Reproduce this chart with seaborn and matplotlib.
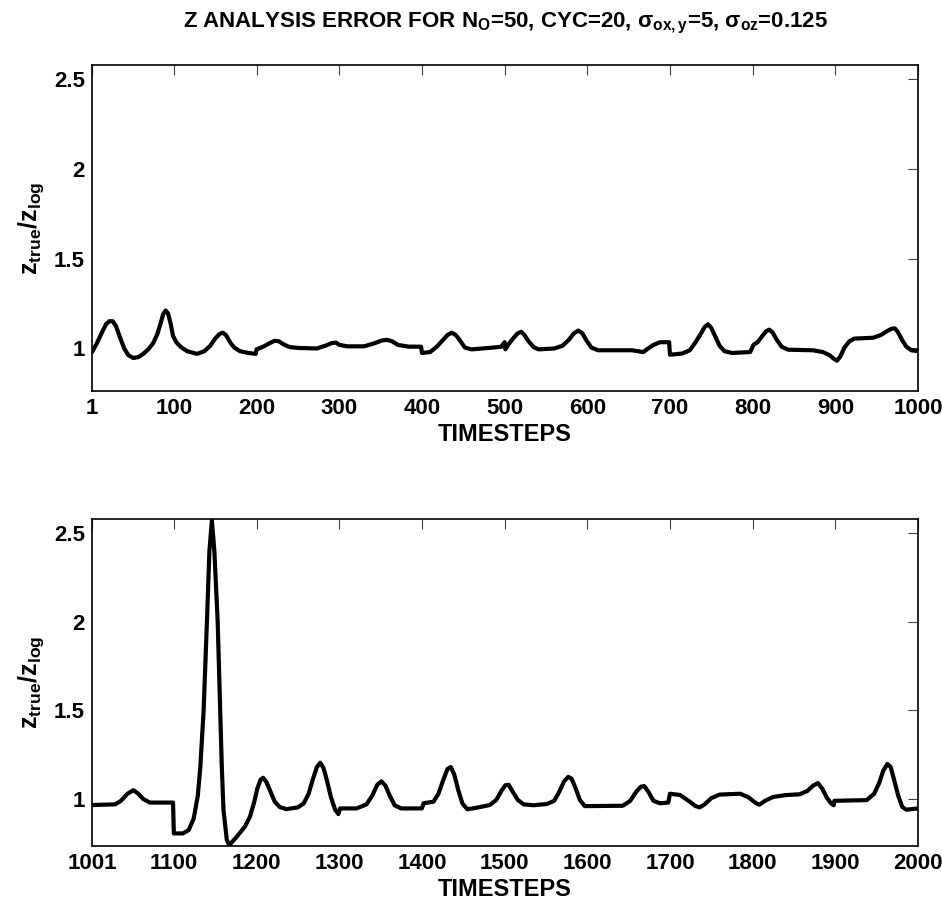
import numpy as np
import pandas as pd
import matplotlib
matplotlib.use('Agg')
import matplotlib.pyplot as plt
import seaborn as sns
from matplotlib import font_manager

# ================= data =================
TOP_T = [1, 7, 13, 18, 22, 26, 30, 35, 40, 45,
         51, 57, 63, 69, 75, 80, 84, 87, 90, 93,
         96, 99, 103, 108, 116, 128, 137, 144, 150, 155,
         159, 163, 168, 173, 180, 190, 199, 200, 208, 216,
         222, 227, 233, 240, 250, 273, 283, 291, 296, 300,
         310, 330, 342, 352, 358, 364, 371, 384, 399, 400,
         410, 418, 425, 431, 436, 441, 446, 452, 460, 486,
         496, 500, 501, 505, 511, 516, 520, 524, 529, 535,
         541, 560, 570, 578, 584, 589, 594, 599, 605, 613,
         654, 668, 672, 680, 688, 699, 700, 715, 724, 731,
         737, 742, 746, 750, 755, 760, 766, 775, 797, 801,
         806, 811, 816, 820, 824, 829, 835, 843, 873, 885,
         893, 898, 902, 906, 911, 917, 923, 946, 955, 962,
         968, 972, 976, 981, 986, 992, 1000]
TOP_Z = [0.98, 1.03, 1.09, 1.135, 1.152, 1.152, 1.125, 1.06, 1.00, 0.962,
         0.947, 0.952, 0.97, 0.995, 1.03, 1.08, 1.14, 1.19, 1.212, 1.195,
         1.14, 1.07, 1.035, 1.01, 0.985, 0.97, 0.985, 1.015, 1.055, 1.08,
         1.088, 1.075, 1.035, 1.005, 0.985, 0.975, 0.97, 0.995, 1.01, 1.03,
         1.043, 1.04, 1.022, 1.008, 1.003, 1.0, 1.015, 1.03, 1.033, 1.02,
         1.012, 1.012, 1.028, 1.045, 1.048, 1.04, 1.02, 1.01, 1.01, 0.975,
         0.98, 1.01, 1.045, 1.075, 1.088, 1.075, 1.045, 1.005, 0.995, 1.005,
         1.01, 1.035, 0.995, 1.025, 1.06, 1.085, 1.093, 1.075, 1.04, 1.008,
         0.995, 1.0, 1.015, 1.05, 1.085, 1.1, 1.085, 1.045, 1.005, 0.99,
         0.99, 0.98, 0.995, 1.02, 1.035, 1.035, 0.965, 0.972, 0.99, 1.035,
         1.08, 1.12, 1.135, 1.115, 1.065, 1.015, 0.985, 0.975, 0.98, 1.02,
         1.035, 1.065, 1.095, 1.105, 1.09, 1.05, 1.01, 0.993, 0.99, 0.98,
         0.963, 0.943, 0.932, 0.955, 1.005, 1.04, 1.055, 1.06, 1.075, 1.095,
         1.11, 1.112, 1.09, 1.045, 1.01, 0.99, 0.985]

BOT_T = [1001, 1029, 1036, 1044, 1051, 1057, 1063, 1071, 1099, 1100,
         1111, 1118, 1124, 1129, 1132, 1136, 1140, 1143, 1146, 1149,
         1153, 1156, 1158, 1160, 1164, 1167, 1176, 1186, 1192, 1197,
         1201, 1205, 1208, 1212, 1217, 1222, 1228, 1236, 1250, 1257,
         1263, 1268, 1273, 1277, 1281, 1285, 1290, 1295, 1299, 1301,
         1321, 1333, 1340, 1346, 1351, 1356, 1361, 1367, 1375, 1400,
         1402, 1414, 1420, 1426, 1431, 1435, 1439, 1444, 1449, 1455,
         1465, 1482, 1490, 1496, 1501, 1505, 1510, 1516, 1523, 1535,
         1551, 1560, 1566, 1572, 1577, 1581, 1586, 1591, 1597, 1643,
         1652, 1659, 1665, 1669, 1674, 1680, 1688, 1698, 1700, 1712,
         1724, 1731, 1736, 1742, 1750, 1760, 1785, 1795, 1803, 1808,
         1815, 1825, 1840, 1857, 1866, 1873, 1879, 1884, 1890, 1895,
         1898, 1899, 1938, 1947, 1953, 1958, 1963, 1967, 1971, 1976,
         1981, 1986, 2000]
BOT_Z = [0.966, 0.97, 0.99, 1.03, 1.05, 1.03, 1.0, 0.98, 0.98, 0.806,
         0.806, 0.825, 0.89, 1.02, 1.18, 1.5, 2.0, 2.4, 2.57, 2.4,
         2.0, 1.5, 1.18, 0.94, 0.77, 0.74, 0.787, 0.845, 0.9, 0.98,
         1.06, 1.11, 1.12, 1.095, 1.04, 0.985, 0.955, 0.943, 0.953, 0.975,
         1.03, 1.11, 1.18, 1.205, 1.175, 1.107, 1.01, 0.94, 0.915, 0.947,
         0.947, 0.97, 1.02, 1.08, 1.1, 1.075, 1.02, 0.965, 0.947, 0.947,
         0.976, 0.985, 1.03, 1.11, 1.17, 1.18, 1.14, 1.05, 0.975, 0.942,
         0.95, 0.966, 0.995, 1.045, 1.078, 1.08, 1.04, 0.995, 0.97, 0.965,
         0.972, 0.99, 1.04, 1.1, 1.125, 1.115, 1.06, 0.995, 0.96, 0.962,
         0.99, 1.04, 1.07, 1.073, 1.04, 0.99, 0.976, 0.98, 1.03, 1.023,
         0.985, 0.96, 0.953, 0.97, 1.005, 1.025, 1.03, 1.01, 0.98, 0.968,
         0.99, 1.012, 1.022, 1.027, 1.045, 1.075, 1.09, 1.06, 1.005, 0.975,
         0.965, 0.99, 0.994, 1.03, 1.09, 1.16, 1.198, 1.18, 1.11, 1.02,
         0.955, 0.94, 0.947]

TOP_XTICKS = [1, 100, 200, 300, 400, 500, 600, 700, 800, 900, 1000]
BOT_XTICKS = [1001, 1100, 1200, 1300, 1400, 1500, 1600, 1700, 1800, 1900, 2000]
YTICKS = [1, 1.5, 2, 2.5]
YTICK_LABELS = ['1', '1.5', '2', '2.5']
TITLE = (r'Z ANALYSIS ERROR FOR N$_{\mathbf{O}}$=50, CYC=20, '
         r'$\sigma_{\mathbf{ox,y}}$=5, $\sigma_{\mathbf{oz}}$=0.125')
# ===============================================================

sns.set_style('white')


def pick_font():
    for name in ['Liberation Sans Narrow', 'Liberation Sans', 'DejaVu Sans']:
        try:
            font_manager.findfont(name, fallback_to_default=False)
            return name
        except Exception:
            pass
    return 'DejaVu Sans'


FONT = pick_font()
plt.rcParams['font.family'] = [FONT, 'DejaVu Sans']
plt.rcParams['font.weight'] = 'bold'
plt.rcParams['text.color'] = 'black'
plt.rcParams['axes.labelcolor'] = 'black'
plt.rcParams['xtick.labelcolor'] = 'black'
plt.rcParams['ytick.labelcolor'] = 'black'
plt.rcParams['mathtext.fontset'] = 'custom'
plt.rcParams['mathtext.rm'] = FONT + ':bold'
plt.rcParams['mathtext.bf'] = FONT + ':bold'
plt.rcParams['mathtext.it'] = FONT + ':bold'

fig = plt.figure(figsize=(9.42, 9.09), dpi=100)
ax_top = fig.add_axes([92 / 942, 1 - 391 / 909, 826 / 942, 326 / 909])
ax_bot = fig.add_axes([92 / 942, 1 - 846 / 909, 826 / 942, 327 / 909])

top_df = pd.DataFrame({'t': TOP_T, 'z': TOP_Z})
bot_df = pd.DataFrame({'t': BOT_T, 'z': BOT_Z})

panels = [(ax_top, top_df, TOP_XTICKS, (1, 1000), (0.763, 2.58)),
          (ax_bot, bot_df, BOT_XTICKS, (1001, 2000), (0.735, 2.58))]

for ax, df, xt, xlim, ylim in panels:
    sns.lineplot(data=df, x='t', y='z', ax=ax, color='black', linewidth=3.0, sort=False)
    ax.set_xlim(*xlim)
    ax.set_ylim(*ylim)
    ax.set_xticks(xt)
    ax.set_xticklabels([str(v) for v in xt])
    ax.set_yticks(YTICKS)
    ax.set_yticklabels(YTICK_LABELS)
    ax.tick_params(axis='both', direction='in', length=7, width=0.8, color='#444444',
                   labelcolor='black', top=True, right=True, labelsize=16, pad=5)
    for lab in ax.get_xticklabels() + ax.get_yticklabels():
        lab.set_fontweight('bold')
    for sp in ax.spines.values():
        sp.set_linewidth(1.2)
        sp.set_color('black')
    ax.set_xlabel('TIMESTEPS', fontsize=17, fontweight='bold', labelpad=3, color='black')
    ax.set_ylabel(r'$\mathbf{z_{true}/z_{log}}$', fontsize=18, labelpad=6, color='black')

ax_top.set_title(TITLE, fontsize=16, fontweight='bold', pad=27, color='black')

fig.savefig('out.png', dpi=100)
plt.close(fig)
